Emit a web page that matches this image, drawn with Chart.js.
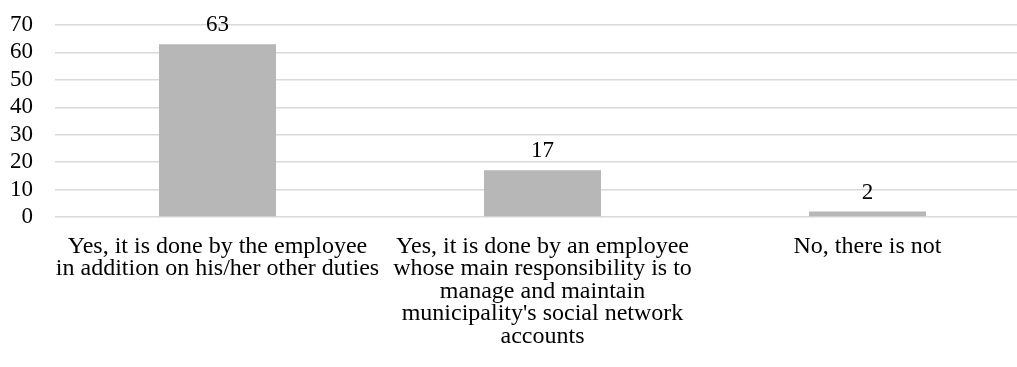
<!DOCTYPE html>
<html>
<head>
<meta charset="utf-8">
<script src="https://cdn.jsdelivr.net/npm/chart.js@4"></script>
<style>
  body { margin: 0; overflow: hidden; background: #fff; }
  #wrap { width: 1030px; height: 367px; }
</style>
</head>
<body>
<div id="wrap"><canvas id="myChart"></canvas></div>
<script>
// categories (multi-line, as in the original) and values
var categories = [
    ["Yes, it is done by the employee", "in addition on his/her other duties"],
    ["Yes, it is done by an employee", "whose main responsibility is to", "manage and maintain", "municipality's social network", "accounts"],
    ["No, there is not"]
];
var values = [63, 17, 2];
var yTicks = [0, 10, 20, 30, 40, 50, 60, 70];

var fontFamily = "'Liberation Serif', 'Times New Roman', serif";

// draws the number above each bar
var valueLabels = {
    id: 'valueLabels',
    afterDatasetsDraw: function (chart) {
        var ctx = chart.ctx;
        var meta = chart.getDatasetMeta(0);
        ctx.save();
        ctx.font = '23px ' + fontFamily;
        ctx.fillStyle = '#000';
        ctx.textAlign = 'center';
        ctx.textBaseline = 'alphabetic';
        meta.data.forEach(function (bar, i) {
            ctx.fillText(values[i], bar.x, bar.y - 13);
        });
        ctx.restore();
    }
};

var ctx = document.getElementById('myChart').getContext('2d');
var chart = new Chart(ctx, {
    type: 'bar',
    data: {
        labels: categories,
        datasets: [{
            data: values,
            backgroundColor: 'rgb(183, 183, 183)',
            borderWidth: 0,
            barPercentage: 0.36,
            categoryPercentage: 1
        }]
    },
    options: {
        responsive: true,
        maintainAspectRatio: false,
        animation: false,
        layout: { padding: { top: 25, left: 0, right: 0, bottom: 0 } },
        plugins: {
            legend: { display: false },
            tooltip: { enabled: false }
        },
        scales: {
            x: {
                grid: { display: false, drawTicks: false },
                border: { display: false },
                ticks: {
                    color: '#000',
                    font: { family: fontFamily, size: 24, lineHeight: 0.94 },
                    padding: 18,
                    maxRotation: 0,
                    autoSkip: false
                },
                afterFit: function (axis) {
                    axis.height = 150;
                    axis.paddingLeft = 0;
                    axis.paddingRight = 0;
                }
            },
            y: {
                min: 0,
                max: 70,
                afterBuildTicks: function (axis) {
                    axis.ticks = yTicks.map(function (v) { return { value: v }; });
                },
                grid: { color: '#d9d9d9', lineWidth: 1.5, drawTicks: false },
                border: { display: false },
                ticks: {
                    color: '#000',
                    font: { family: fontFamily, size: 23 },
                    padding: 22,
                    autoSkip: false
                },
                afterFit: function (axis) {
                    axis.width = 55;
                    axis.paddingTop = 0;
                    axis.paddingBottom = 0;
                }
            }
        }
    },
    plugins: [valueLabels]
});
</script>
</body>
</html>
